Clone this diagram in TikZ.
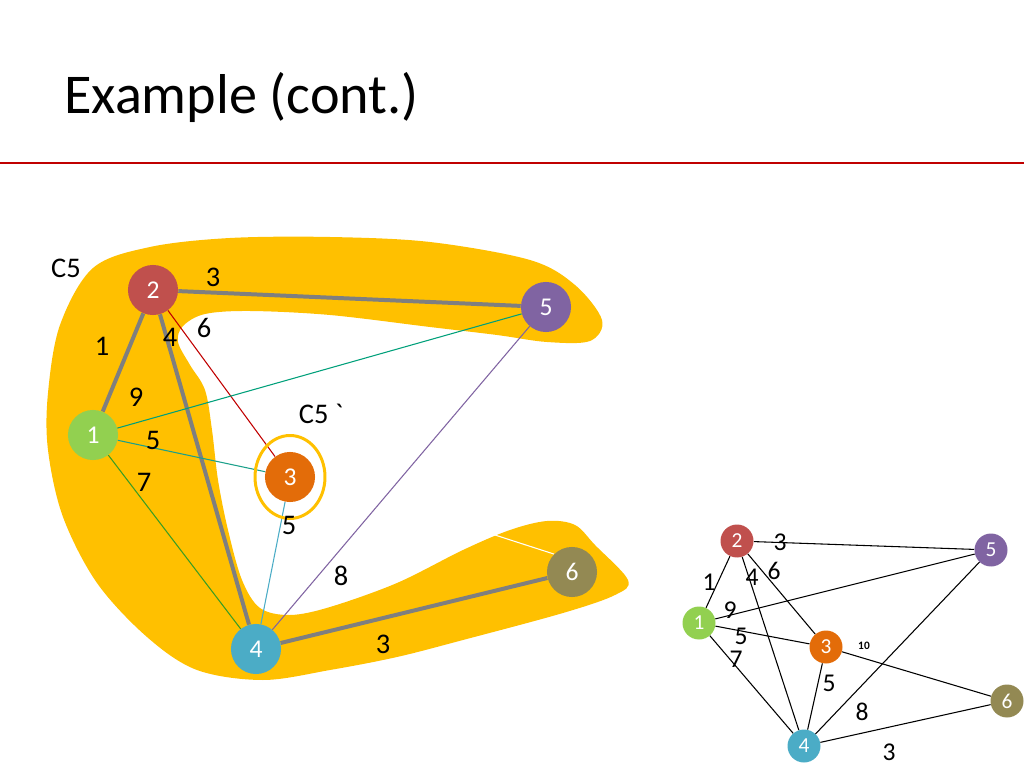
\documentclass[tikz,border=0pt]{standalone}
\usepackage{fontspec}
\setmainfont{Carlito}
\usetikzlibrary{calc}
\definecolor{gold}{HTML}{FFC000}
\definecolor{rulered}{HTML}{C00000}
\definecolor{edgegray}{HTML}{7F7F7F}
\definecolor{cA}{HTML}{92D050}
\definecolor{cB}{HTML}{C0504D}
\definecolor{cC}{HTML}{E36C09}
\definecolor{cD}{HTML}{4BACC6}
\definecolor{cE}{HTML}{8064A2}
\definecolor{cF}{HTML}{938953}
\definecolor{eAE}{HTML}{00A07A}
\definecolor{eAC}{HTML}{1BA08A}
\definecolor{eAD}{HTML}{3A9D23}
\definecolor{eBC}{HTML}{C00000}

\begin{document}
\begin{tikzpicture}[x=0.703125pt,y=-0.703125pt]
\path [use as bounding box] (0,0) rectangle (1024,768);
\tikzstyle{vtx} = [circle, inner sep=0pt, minimum size=35.2pt, text=white, font=\fontsize{18}{21}\selectfont]
\tikzstyle{svtx} = [circle, inner sep=0pt, minimum size=23.2pt, text=white, font=\fontsize{15}{18}\selectfont]
\tikzstyle{lbl} = [inner sep=0pt, font=\fontsize{20}{24}\selectfont]
\tikzstyle{slbl} = [inner sep=0pt, font=\fontsize{18}{21}\selectfont]
\tikzstyle{heavy} = [edgegray, line width=2.8pt]
\tikzstyle{light} = [line width=0.75pt]

\node[anchor=base west, inner sep=0pt, font=\fontsize{39.5}{47}\selectfont] (title) at (64,114) {Example (cont.)};
\coordinate (ruleL) at (0,163);
\coordinate (ruleR) at (1024,163);
\draw[rulered, line width=2.1pt] (ruleL) -- (ruleR);

\fill[gold] plot[smooth cycle, tension=0.55] coordinates {(93,268) (150,247) (230,238) (330,237) (430,242) (530,260) (575,285) (602,320) (590,341) (547,342) (497,335) (430,327) (330,315) (250,311) (205,314) (183,326) (178,342) (190,365) (205,390) (212,430) (218,480) (228,530) (242,580) (260,608) (290,615) (330,607) (397,583) (463,550) (510,530) (547,521) (575,525) (595,545) (628,580) (615,595) (563,613) (463,640) (397,657) (330,670) (263,680) (197,670) (147,637) (97,583) (63,517) (48,450) (48,393) (60,325)};

\coordinate (p1) at (93,435);
\coordinate (p2) at (153,290);
\coordinate (p3) at (290,477);
\coordinate (p4) at (256,649);
\coordinate (p5) at (546,307);
\coordinate (p6) at (572,572);

\node[vtx] (n1) at (p1) {};
\node[vtx] (n2) at (p2) {};
\node[vtx] (n3) at (p3) {};
\node[vtx] (n4) at (p4) {};
\node[vtx] (n5) at (p5) {};
\node[vtx] (n6) at (p6) {};

\draw[white, light] (n3.east) -- (n6.north west);
\draw[heavy] (n1) -- (n2);
\draw[heavy] (n2) -- (n5);
\draw[heavy] (n2) -- (n4);
\draw[heavy] (n4) -- (n6);
\draw[eBC, light] (n2) -- (n3);
\draw[eAE, light] (n1) -- (n5);
\draw[eAC, light] (n1) -- (n3);
\draw[eAD, light] (n1) -- (n4);
\draw[cD, light] (n3) -- (n4);
\draw[cE, light] (n4) -- (n5);
\draw[gold, line width=2.1pt] (p3) ellipse [x radius=35, y radius=41.5];

\node[vtx, fill=cA] at (p1) {1};
\node[vtx, fill=cB] at (p2) {2};
\node[vtx, fill=cC] at (p3) {3};
\node[vtx, fill=cD] at (p4) {4};
\node[vtx, fill=cE] at (p5) {5};
\node[vtx, fill=cF] at (p6) {6};

\node[lbl] at (66,268) {C5};
\node[lbl] at (213,277) {3};
\node[lbl] at (102,346) {1};
\node[lbl] at (170,337) {4};
\node[lbl] at (204,328) {6};
\node[lbl] at (136,397) {9};
\node[lbl] at (153,440) {5};
\node[lbl] at (144,482) {7};
\node[lbl] at (321,414) {C5 \textasciigrave};
\node[lbl] at (289,525) {5};
\node[lbl] at (341,576) {8};
\node[lbl] at (383,644) {3};

\node[svtx, fill=cA] (s1) at (699,623) {1};
\node[svtx, fill=cB] (s2) at (737,541) {2};
\node[svtx, fill=cC] (s3) at (826,647) {3};
\node[svtx, fill=cD] (s4) at (804,746) {4};
\node[svtx, fill=cE] (s5) at (991,550) {5};
\node[svtx, fill=cF] (s6) at (1007,701) {6};

\draw[light] (s1) -- (s2);
\draw[light] (s2) -- (s5);
\draw[light] (s2) -- (s4);
\draw[light] (s2) -- (s3);
\draw[light] (s1) -- (s5);
\draw[light] (s1) -- (s3);
\draw[light] (s1) -- (s4);
\draw[light] (s3) -- (s4);
\draw[light] (s3) -- (s6);
\draw[light] (s4) -- (s5);
\draw[light] (s4) -- (s6);

\node[slbl] at (780,542) {3};
\node[slbl] at (709,582) {1};
\node[slbl] at (752,577) {4};
\node[slbl] at (774,571) {6};
\node[slbl] at (730,610) {9};
\node[slbl] at (741,636) {5};
\node[slbl] at (736,659) {7};
\node[inner sep=0pt, font=\fontsize{8}{9}\selectfont\bfseries] at (864,646) {10};
\node[slbl] at (829,683) {5};
\node[slbl] at (862,712) {8};
\node[slbl] at (889,752) {3};
\end{tikzpicture}
\end{document}
